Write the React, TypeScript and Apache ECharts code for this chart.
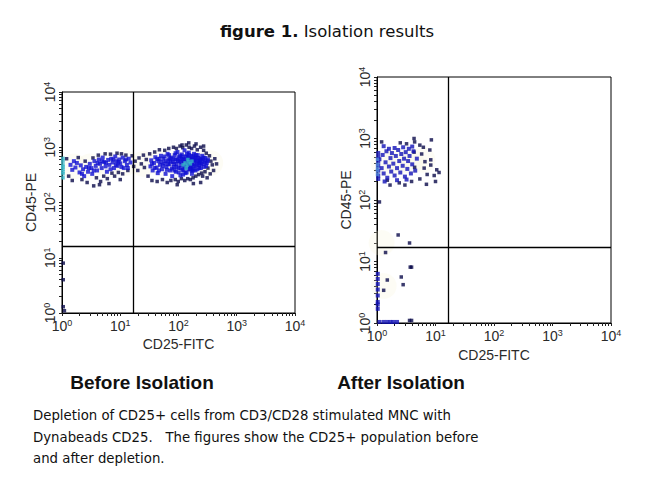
import React, { useEffect, useRef } from "react";
import * as echarts from "echarts";

// ---------- data ----------
const titleBold = "figure 1.";
const titleRest = " Isolation results";
const panelCaptions = ["Before Isolation", "After Isolation"];
const xAxisName = "CD25-FITC";
const yAxisName = "CD45-PE";
const descriptionLines = [
  "Depletion of CD25+ cells from CD3/CD28 stimulated MNC with",
  "Dynabeads CD25.   The figures show the CD25+ population before",
  "and after depletion.",
];
const axisMin = 1;
const axisMax = 10000;
const majorTicks = [1, 10, 100, 1000, 10000];
const minorTicks = [
  2, 3, 4, 5, 6, 7, 8, 9,
  20, 30, 40, 50, 60, 70, 80, 90,
  200, 300, 400, 500, 600, 700, 800, 900,
  2000, 3000, 4000, 5000, 6000, 7000, 8000, 9000,
];
const gateX = [16.5, 16.5];
const gateY = [16, 17];

// Before isolation
const beforeBlue: number[][] = [
  [1.4, 480], [1.5, 390], [1.7, 430], [1.8, 520], [2.0, 350], [2.1, 470], [2.3, 400], [2.4, 300],
  [2.6, 440], [2.8, 360], [3.0, 500], [3.2, 420], [3.3, 330], [3.6, 560], [3.8, 460], [4.0, 380],
  [4.3, 600], [4.5, 500], [4.8, 420], [5.0, 650], [5.3, 540], [5.6, 450], [5.9, 360], [6.2, 590],
  [6.5, 480], [7.0, 620], [7.4, 530], [7.8, 420], [8.2, 680], [8.6, 560], [9.0, 460], [9.6, 600],
  [10, 510], [11, 650], [11.5, 420], [12, 560], [13, 480], [14, 620], [15, 530],
  [1.6, 560], [2.2, 330], [2.9, 420], [3.5, 380], [4.1, 520], [4.9, 560], [5.7, 520], [6.8, 400],
  [7.6, 600], [8.4, 480], [9.3, 540], [10.5, 440], [12.5, 600], [13.5, 420],
  [33, 450], [34, 580], [36, 380], [38, 520], [40, 660], [42, 430], [44, 340], [45, 560], [48, 480],
  [50, 700], [52, 400], [55, 620], [57, 510], [60, 330], [62, 440], [65, 760], [67, 580], [70, 490],
  [72, 380], [75, 650], [78, 300], [80, 540], [83, 440], [86, 720], [88, 600], [90, 360], [93, 500],
  [96, 820], [100, 420], [102, 660], [105, 560], [108, 310], [110, 480], [114, 740], [117, 390],
  [120, 600], [124, 520], [127, 880], [130, 430], [134, 680], [138, 350], [141, 560], [145, 470],
  [150, 800], [154, 620], [158, 400], [162, 520], [166, 700], [170, 330], [175, 600], [180, 460],
  [185, 760], [190, 540], [196, 380], [202, 650], [208, 480], [214, 720], [220, 560], [228, 420],
  [236, 620], [245, 500], [255, 700], [265, 580], [275, 440], [290, 640], [305, 520], [320, 600],
  [60, 560], [85, 380], [112, 620], [140, 760], [175, 380], [95, 600], [125, 450], [155, 520],
  [190, 640], [70, 620], [47, 620], [120, 320], [165, 440], [230, 520],
  [35, 500], [39, 420], [43, 610], [46, 380], [51, 540], [54, 460], [58, 680], [63, 390], [66, 500],
  [69, 720], [73, 560], [77, 410], [81, 620], [84, 500], [89, 780], [92, 440], [98, 560], [101, 350],
  [106, 700], [109, 420], [113, 540], [118, 680], [122, 380], [128, 600], [132, 340], [137, 520],
  [143, 660], [148, 400], [152, 720], [157, 460], [163, 600], [168, 380], [173, 500], [178, 680],
  [183, 400], [188, 580], [194, 460], [199, 720], [205, 560], [211, 400], [218, 640], [225, 480],
  [233, 580], [242, 420], [250, 600], [260, 500], [270, 650], [282, 540], [298, 460], [312, 560],
];
const beforeNavy: number[][] = [
  [1.2, 620], [1.3, 300], [1.5, 250], [1.9, 650], [2.2, 260], [2.5, 560], [2.7, 230], [3.4, 640],
  [3.9, 280], [4.2, 720], [4.6, 240], [5.2, 300], [5.5, 760], [6.0, 270], [6.8, 750], [7.2, 340],
  [8.0, 300], [8.8, 780], [9.3, 350], [10.5, 760], [11, 330], [12.5, 720], [13.5, 380], [4.4, 210],
  [3.5, 200], [6.4, 220], [10, 260],
  [16, 700], [17, 450], [18, 560], [20, 380], [21, 640], [23, 500], [25, 720], [26, 430], [28, 600],
  [30, 300], [32, 760], [35, 250], [39, 820], [43, 240], [47, 900], [53, 260], [58, 880], [64, 230],
  [68, 950], [74, 250], [82, 1000], [88, 260], [92, 950], [99, 240], [106, 1050], [112, 270],
  [118, 980], [128, 250], [136, 1100], [144, 270], [152, 1000], [160, 260], [168, 950], [178, 280],
  [188, 1050], [198, 300], [210, 900], [222, 320], [240, 1000], [250, 340], [270, 880], [285, 360],
  [300, 780], [320, 420], [340, 700], [360, 560], [380, 480], [420, 620], [450, 500], [400, 380],
  [350, 330], [310, 280], [260, 300], [270, 1050], [200, 1150], [150, 1200], [115, 1100], [240, 230],
  [180, 220], [95, 210],
  [1.05, 8], [1.05, 4], [1.05, 1.3], [1.1, 1.1],
];
const beforeCyan: number[][] = [
  [120, 480], [130, 520], [140, 470], [150, 540], [160, 500], [135, 420], [170, 560], [145, 600],
  [1.04, 560], [1.04, 480], [1.04, 400], [1.04, 330], [1.04, 280], [1.04, 630], [1.04, 360], [1.04, 440],
];

// After isolation
const afterBlue: number[][] = [
  [1.05, 250], [1.05, 300], [1.05, 360], [1.05, 420], [1.05, 500], [1.05, 580], [1.05, 220],
  [1.1, 460], [1.2, 330], [1.25, 540], [1.3, 270], [1.4, 410], [1.45, 620], [1.5, 230], [1.6, 350],
  [1.7, 480], [1.75, 290], [1.8, 580], [1.9, 390], [2.0, 250], [2.1, 520], [2.2, 330], [2.3, 650],
  [2.4, 430], [2.5, 280], [2.6, 560], [2.75, 360], [2.9, 470], [3.0, 240], [3.1, 600], [3.3, 320],
  [3.4, 430], [3.6, 520], [3.8, 270], [4.0, 380], [4.2, 620], [4.5, 300], [4.8, 470], [1.35, 200],
  [2.2, 210], [3.2, 215], [2.0, 700], [2.8, 720], [1.6, 680], [1.3, 750], [3.5, 680], [4.0, 740],
  [1.03, 1.7], [1.03, 2.2], [1.03, 2.8], [1.03, 3.5], [1.03, 4.3], [1.03, 5.2], [1.03, 6.3], [1.03, 2.0],
  [1.1, 1.04], [1.3, 1.04], [1.5, 1.04], [1.7, 1.04], [1.9, 1.04], [2.2, 1.04],
];
const afterLight: number[][] = [
  [1.02, 300], [1.02, 380], [1.02, 460], [1.02, 330], [1.02, 260],
];
const afterNavy: number[][] = [
  [2.5, 850], [4.4, 880], [5.4, 780], [8.0, 650], [8.3, 450], [6.6, 420], [4.4, 340], [8.3, 370],
  [10.5, 310], [7.2, 260], [5.4, 220], [3.0, 175], [1.67, 175], [2.4, 190], [4.3, 600], [5.8, 560],
  [11.5, 280], [9.5, 250], [7, 180], [4.3, 1000], [8.5, 950], [1.2, 880], [3.2, 820], [6.2, 720],
  [1.5, 210], [3.9, 200], [6.4, 330], [10, 200],
  [2.3, 27], [3.6, 20], [1.4, 14], [3.9, 8.1], [3.7, 8.1], [2.6, 5.6], [2.8, 4.2], [1.5, 5],
  [1.3, 3.4], [3.6, 1.1], [3.9, 1.1], [1.1, 93],
];

const hazeBefore: number[][] = [
  [1.6, 450], [3, 450], [6, 480], [12, 520], [25, 500], [50, 520], [100, 500], [200, 500], [350, 520],
];
const hazeAfter: number[][] = [
  [1.3, 400], [2.2, 420], [3.8, 430], [6, 450], [1.2, 20], [1.3, 4],
];

export default function App() {
  const ref = useRef<HTMLDivElement>(null);

  useEffect(() => {
    if (!ref.current) return;
    const chart = echarts.init(ref.current, undefined, { renderer: "svg" });

    const grids = [
      { left: 62, top: 92, width: 233, height: 221 },
      { left: 377, top: 77, width: 234, height: 246 },
    ];

    const supLabel = (v: number) => `{n|10}{s|${Math.round(Math.log10(v))}}`;
    const rich = {
      n: { fontSize: 14, fontFamily: "Liberation Sans, Arial", color: "#2a2a2a", lineHeight: 16 },
      s: { fontSize: 9, fontFamily: "Liberation Sans, Arial", color: "#2a2a2a", lineHeight: 9, verticalAlign: "top" as const },
    };
    const tickValues = [...majorTicks, ...minorTicks];

    const commonAxis = {
      type: "log" as const,
      logBase: 10,
      min: axisMin,
      max: axisMax,
      nameLocation: "middle" as const,
      nameTextStyle: { fontSize: 14, fontFamily: "Liberation Sans, Arial", color: "#2a2a2a" },
      axisLine: { show: true, lineStyle: { color: "#000", width: 1 } },
      axisTick: { show: true, length: 3, customValues: tickValues, lineStyle: { color: "#222", width: 1 } },
      splitLine: { show: false },
    };

    const makeX = (gi: number, nameGap: number) => ({
      ...commonAxis,
      gridIndex: gi,
      name: xAxisName,
      nameGap,
      axisLabel: { formatter: supLabel, rich, margin: 5, customValues: majorTicks },
    });
    const makeY = (gi: number, nameGap: number) => ({
      ...commonAxis,
      gridIndex: gi,
      name: yAxisName,
      nameGap,
      axisLabel: { formatter: supLabel, rich, rotate: 90, margin: 4, customValues: majorTicks },
    });

    const dots = (gi: number, data: number[][], color: string, size: number, z: number) => ({
      type: "scatter" as const,
      xAxisIndex: gi,
      yAxisIndex: gi,
      data,
      symbol: "rect",
      symbolSize: size,
      itemStyle: { color },
      z,
      silent: true,
    });
    const haze = (gi: number, data: number[][]) => ({
      type: "scatter" as const,
      xAxisIndex: gi,
      yAxisIndex: gi,
      data,
      symbol: "circle",
      symbolSize: 26,
      itemStyle: { color: "rgba(246, 242, 210, 0.28)" },
      z: 1,
      silent: true,
    });
    const gates = (gi: number) => ({
      type: "scatter" as const,
      xAxisIndex: gi,
      yAxisIndex: gi,
      data: [],
      z: 5,
      markLine: {
        silent: true,
        symbol: "none",
        label: { show: false },
        lineStyle: { color: "#000", width: 1.3, type: "solid" as const },
        data: [{ xAxis: gateX[gi] }, { yAxis: gateY[gi] }],
      },
    });

    chart.setOption({
      animation: false,
      backgroundColor: "#fff",
      grid: grids.map((g) => ({ ...g, show: true, borderColor: "#000", borderWidth: 1, backgroundColor: "transparent" })),
      xAxis: [makeX(0, 24), makeX(1, 22)],
      yAxis: [makeY(0, 24), makeY(1, 24)],
      series: [
        haze(0, hazeBefore),
        gates(0),
        dots(0, beforeNavy, "#0a0a4a", 3.5, 3),
        dots(0, beforeBlue, "#0f0fd2", 4, 4),
        dots(0, beforeCyan, "#36b8c8", 3.5, 5),
        haze(1, hazeAfter),
        gates(1),
        dots(1, afterNavy, "#0a0a4a", 3.5, 3),
        dots(1, afterBlue, "#1212b8", 4, 4),
        dots(1, afterLight, "#4f86d8", 3.5, 5),
      ],
      graphic: [
        {
          type: "text",
          x: 327,
          y: 31,
          style: {
            text: `{b|${titleBold}}{r|${titleRest}}`,
            align: "center",
            verticalAlign: "middle",
            rich: {
              b: { fontSize: 16.5, fontWeight: "bold", fontFamily: "DejaVu Sans, Verdana", fill: "#111" },
              r: { fontSize: 16.5, fontFamily: "DejaVu Sans, Verdana", fill: "#111" },
            },
          },
        },
        {
          type: "text",
          x: 142,
          y: 382,
          style: {
            text: panelCaptions[0],
            fontSize: 19,
            fontWeight: "bold",
            fontFamily: "Liberation Sans, Arial",
            fill: "#111",
            align: "center",
            verticalAlign: "middle",
          },
        },
        {
          type: "text",
          x: 401,
          y: 382,
          style: {
            text: panelCaptions[1],
            fontSize: 19,
            fontWeight: "bold",
            fontFamily: "Liberation Sans, Arial",
            fill: "#111",
            align: "center",
            verticalAlign: "middle",
          },
        },
        {
          type: "text",
          x: 33,
          y: 405,
          style: {
            text: descriptionLines.join("\n"),
            fontSize: 13.3,
            lineHeight: 21.5,
            fontFamily: "DejaVu Sans, Verdana",
            fill: "#111",
          },
        },
      ],
    });

    return () => chart.dispose();
  }, []);

  return (
    <div
      ref={ref}
      style={{ position: "fixed", left: 0, top: 0, width: 650, height: 479, background: "#fff" }}
    />
  );
}
